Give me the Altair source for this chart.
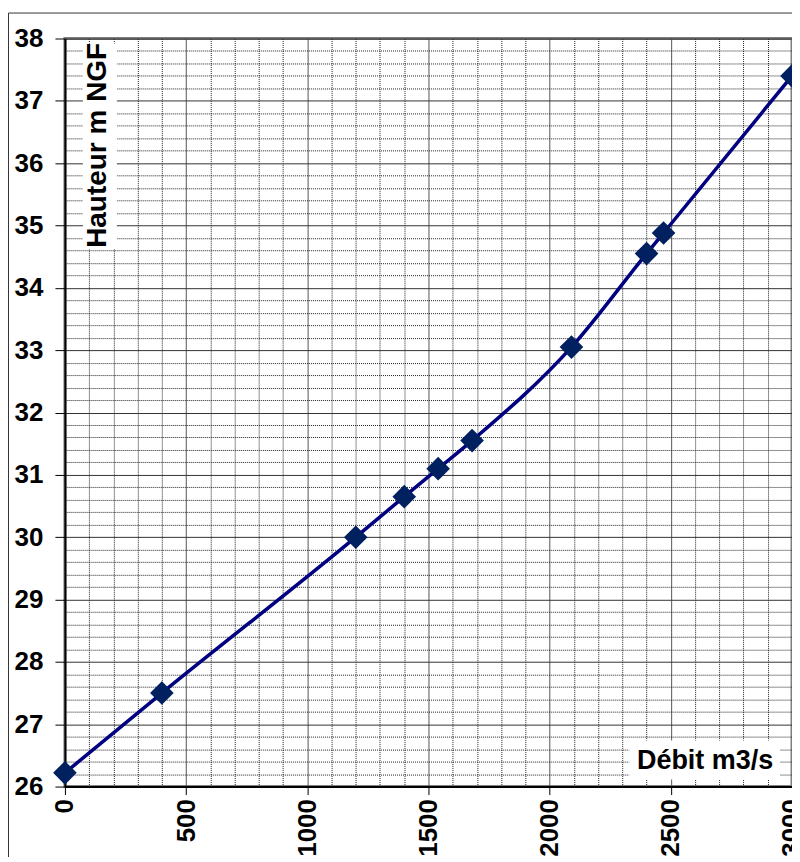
import altair as alt
import pandas as pd

# Data
debit = [0, 400, 1200, 1400, 1540, 1680, 2090, 2400, 2470, 3000]
hauteur = [26.22, 27.5, 30.0, 30.65, 31.1, 31.55, 33.05, 34.55, 34.88, 37.4]

x_tick_values = list(range(0, 3001, 100))
y_tick_values = [round(26 + 0.2 * i, 1) for i in range(61)]

y_title = "Hauteur m NGF"
x_title = "Débit m3/s"

df = pd.DataFrame({"debit": debit, "hauteur": hauteur})

FONT = "Liberation Sans"

x_axis = alt.Axis(
    values=x_tick_values,
    tickCount=1000,
    labelExpr="datum.value % 500 === 0 ? format(datum.value, 'd') : ''",
    labelAngle=-90,
    labelFont=FONT,
    labelFontSize=26,
    labelFontWeight="bold",
    labelColor="black",
    labelPadding=4,
    labelOverlap=False,
    labelFlush=False,
    tickSize=8,
    tickColor="black",
    tickOpacity=alt.condition("datum.value % 500 === 0", alt.value(1), alt.value(0)),
    grid=True,
    gridColor=alt.condition("datum.value % 500 === 0", alt.value("#555555"), alt.value("#222222")),
    gridDash=alt.condition("datum.value % 500 === 0", alt.value([]), alt.value([1, 1])),
    gridWidth=1,
    domainColor="black",
    domainWidth=2,
    title=None,
)

y_axis = alt.Axis(
    values=y_tick_values,
    tickCount=1000,
    labelExpr="datum.value % 1 === 0 ? format(datum.value, 'd') : ''",
    labelFont=FONT,
    labelFontSize=26,
    labelFontWeight="bold",
    labelColor="black",
    labelPadding=12,
    labelOverlap=False,
    labelFlush=False,
    tickSize=10,
    tickColor="black",
    tickOpacity=alt.condition("datum.value % 1 === 0", alt.value(1), alt.value(0)),
    grid=True,
    gridColor=alt.condition("datum.value % 1 === 0", alt.value("#333333"), alt.value("#222222")),
    gridDash=alt.condition("datum.value % 1 === 0", alt.value([]), alt.value([1, 1])),
    gridWidth=1,
    domainColor="black",
    domainWidth=2,
    title=None,
)

x_enc = alt.X("debit:Q", scale=alt.Scale(domain=[0, 3000], nice=False, zero=False), axis=x_axis)
y_enc = alt.Y("hauteur:Q", scale=alt.Scale(domain=[26, 38], nice=False, zero=False), axis=y_axis)

base = alt.Chart(df)

line = base.mark_line(color="#000080", strokeWidth=3.5, interpolate="monotone").encode(x=x_enc, y=y_enc)
points = base.mark_point(shape="diamond", filled=True, size=560, color="#002060", opacity=1).encode(
    x="debit:Q", y="hauteur:Q"
)

ybox = alt.Chart(pd.DataFrame({"t": [y_title]})).mark_rect(fill="white").encode(
    x=alt.value(18), x2=alt.value(52), y=alt.value(5), y2=alt.value(211)
)
ytext = alt.Chart(pd.DataFrame({"t": [y_title]})).mark_text(
    angle=270, font=FONT, fontSize=28, fontWeight="bold", color="black", align="center", baseline="middle"
).encode(x=alt.value(33), y=alt.value(107), text="t:N")

xbox = alt.Chart(pd.DataFrame({"t": [x_title]})).mark_rect(fill="white").encode(
    x=alt.value(565), x2=alt.value(716), y=alt.value(703), y2=alt.value(742)
)
xtext = alt.Chart(pd.DataFrame({"t": [x_title]})).mark_text(
    font=FONT, fontSize=27, fontWeight="bold", color="black", align="center", baseline="middle"
).encode(x=alt.value(641), y=alt.value(723), text="t:N")

frame = alt.Chart(pd.DataFrame({"t": ["frame"]})).mark_rect(
    fillOpacity=0, stroke="#333333", strokeWidth=1
).encode(x=alt.value(-56.5), x2=alt.value(800), y=alt.value(-25.5), y2=alt.value(900))

chart = (
    alt.layer(frame, ybox, ytext, xbox, xtext, line, points)
    .properties(
        width=728,
        height=749,
        autosize=alt.AutoSizeParams(type="none"),
        padding={"left": 57, "top": 30, "right": 0, "bottom": 70},
        background="white",
    )
    .configure_view(stroke="#808080", strokeWidth=3)
)

chart.save("out.html", embed_options={"renderer": "svg", "actions": False})
